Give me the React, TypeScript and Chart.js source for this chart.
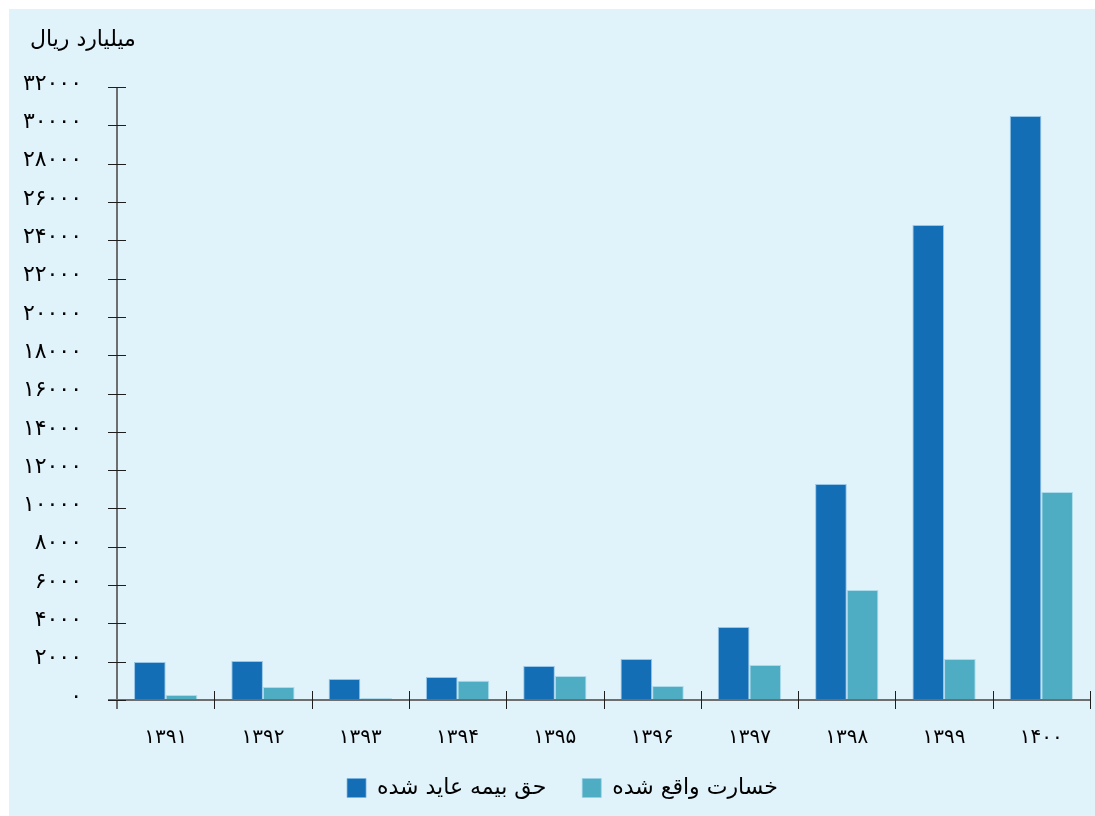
import React, { useEffect, useRef } from "react";
import { Chart, registerables } from "chart.js";

Chart.register(...registerables);

const categories = ["۱۳۹۱", "۱۳۹۲", "۱۳۹۳", "۱۳۹۴", "۱۳۹۵", "۱۳۹۶", "۱۳۹۷", "۱۳۹۸", "۱۳۹۹", "۱۴۰۰"];
const premiumValues = [1990, 2040, 1100, 1200, 1780, 2140, 3810, 11280, 24800, 30490];
const lossValues = [260, 680, 100, 1000, 1250, 730, 1830, 5740, 2140, 10860];
const seriesNames = ["حق بیمه عاید شده", "خسارت واقع شده"];
const unitTitle = "میلیارد ریال";
const yMin = 0;
const yMax = 32000;
const yStep = 2000;

const FONT = "'DejaVu Sans', sans-serif";

function toPersianDigits(v: number | string): string {
  const d = "۰۱۲۳۴۵۶۷۸۹";
  return String(v).replace(/[0-9]/g, (c) => d[Number(c)]);
}

const legendShiftPlugin = {
  id: "legendShift",
  afterLayout(chart: any) {
    if (chart.legend) {
      chart.legend.left += 8;
      chart.legend.right += 8;
      chart.legend.top -= 7;
      chart.legend.bottom -= 7;
    }
  },
};

const crossAxesPlugin = {
  id: "crossAxes",
  afterDatasetsDraw(chart: any) {
    const { ctx, scales } = chart;
    const x = scales.x;
    const y = scales.y;
    const top = Math.round(y.getPixelForValue(yMax));
    const bottom = Math.round(y.getPixelForValue(yMin));
    const left = Math.round(x.left);
    const right = Math.round(x.right);
    ctx.save();
    ctx.strokeStyle = "#6e6e6e";
    ctx.lineWidth = 2;
    ctx.beginPath();
    ctx.moveTo(left, top);
    ctx.lineTo(left, bottom + 9);
    ctx.stroke();
    ctx.beginPath();
    ctx.moveTo(left - 9, bottom);
    ctx.lineTo(right, bottom);
    ctx.stroke();
    ctx.strokeStyle = "#1e1e1e";
    ctx.lineWidth = 1;
    y.ticks.forEach((t: any) => {
      const p = Math.round(y.getPixelForValue(t.value)) + 0.5;
      ctx.beginPath();
      ctx.moveTo(left - 9, p);
      ctx.lineTo(left + 9, p);
      ctx.stroke();
    });
    for (let i = 1; i <= categories.length; i++) {
      const px = Math.round(x.getPixelForValue(i - 0.5)) + 0.5;
      ctx.beginPath();
      ctx.moveTo(px, bottom - 9);
      ctx.lineTo(px, bottom + 9);
      ctx.stroke();
    }
    // unit title above the value axis
    ctx.fillStyle = "#000";
    ctx.font = `normal 22px ${FONT}`;
    ctx.textAlign = "left";
    ctx.textBaseline = "middle";
    ctx.fillText(unitTitle, y.left + 11, 31);
    ctx.restore();
  },
};

export default function App() {
  const canvasRef = useRef<HTMLCanvasElement | null>(null);

  useEffect(() => {
    if (!canvasRef.current) return;
    const chart = new Chart(canvasRef.current, {
      type: "bar",
      data: {
        labels: categories,
        datasets: [
          {
            label: seriesNames[0],
            data: premiumValues,
            backgroundColor: "#136eb5",
            borderColor: "rgba(120,180,225,0.7)",
            borderWidth: 1,
          },
          {
            label: seriesNames[1],
            data: lossValues,
            backgroundColor: "#4eadc3",
            borderColor: "rgba(150,210,230,0.7)",
            borderWidth: 1,
          },
        ],
      },
      options: {
        animation: false,
        responsive: false,
        maintainAspectRatio: false,
        layout: { padding: { left: 10, right: 5, top: 78, bottom: 0 } },
        datasets: { bar: { categoryPercentage: 0.65, barPercentage: 1 } },
        scales: {
          x: {
            offset: true,
            grid: { display: false, drawTicks: false },
            border: { display: false },
            ticks: {
              padding: 26,
              color: "#000",
              font: { family: FONT, size: 20 },
              maxRotation: 0,
            },
            afterFit: (s: any) => {
              s.height = 48;
            },
          },
          y: {
            min: yMin,
            max: yMax,
            grid: { display: false, drawTicks: false },
            border: { display: false },
            ticks: {
              stepSize: yStep,
              padding: 35,
              labelOffset: -3,
              color: "#000",
              font: { family: FONT, size: 22 },
              callback: (v: any) => toPersianDigits(v),
            },
            afterFit: (s: any) => {
              s.width = 98;
            },
          },
        },
        plugins: {
          title: { display: false },
          legend: {
            position: "bottom",
            labels: {
              boxWidth: 19,
              boxHeight: 19,
              padding: 36,
              color: "#000",
              font: { family: FONT, size: 22 },
            },
          },
          tooltip: { enabled: false },
        },
      },
      plugins: [crossAxesPlugin, legendShiftPlugin],
    });
    return () => chart.destroy();
  }, []);

  return (
    <div
      style={{
        position: "fixed",
        left: 9,
        top: 9,
        width: 1086,
        height: 807,
        background: "#e0f2fa",
      }}
    >
      <canvas ref={canvasRef} width={1086} height={807} style={{ display: "block" }} />
    </div>
  );
}
